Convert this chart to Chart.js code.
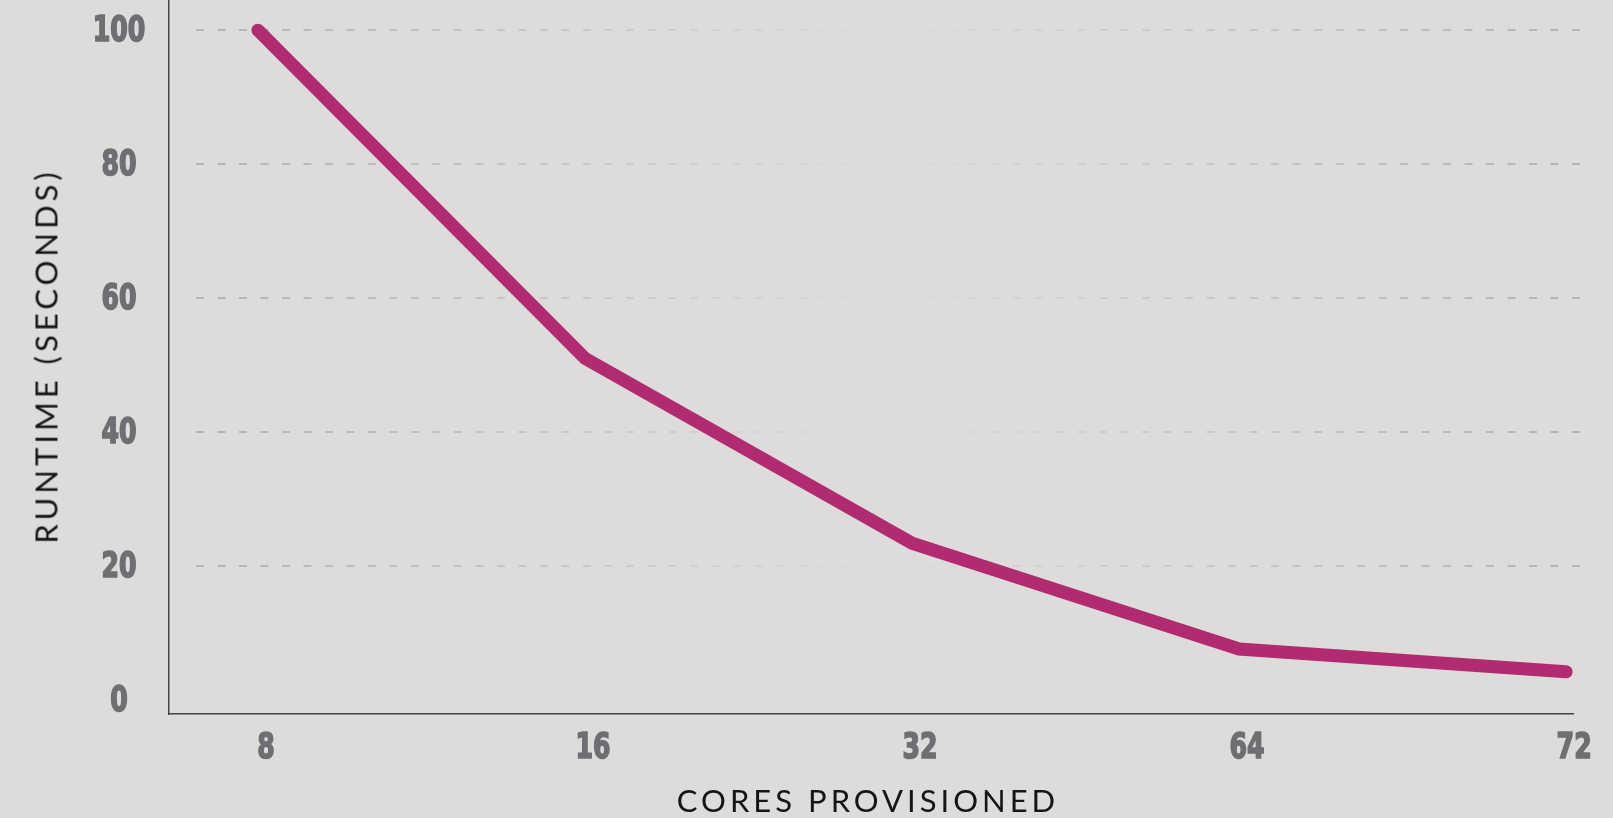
<!DOCTYPE html>
<html>
<head>
<meta charset="utf-8">
<script src="https://cdn.jsdelivr.net/npm/chart.js@4/dist/chart.umd.min.js"></script>
<style>
  html, body { margin: 0; padding: 0; background: #dddcdb; }
  #wrap { position: relative; width: 1613px; height: 818px; }
  canvas { display: block; }
  .axis-title {
    position: absolute;
    font-family: Lato, "Open Sans", sans-serif;
    font-weight: 400;
    font-size: 31px;
    letter-spacing: 4px;
    color: #151515;
    white-space: nowrap;
    line-height: 1;
  }
  #xTitle { left: 868px; top: 800px; transform: translate(-50%, -50%); }
  #yTitle { left: 46px; top: 356px; transform: translate(-50%, -50%) rotate(-90deg); }
</style>
</head>
<body>
<div id="wrap">
  <canvas id="chart" width="1613" height="818"></canvas>
  <div id="xTitle" class="axis-title">CORES PROVISIONED</div>
  <div id="yTitle" class="axis-title">RUNTIME (SECONDS)</div>
</div>
<script>
// 数据
const cores = ['8', '16', '32', '64', '72'];
const runtime = [100, 51, 23.4, 7.6, 4.2];
const yTicks = [0, 20, 40, 60, 80, 100];

const tickFont = 'bold 35px "DejaVu Sans Condensed", "DejaVu Sans", sans-serif';
const tickColor = '#6e6f73';

// 虚线网格（两端深，中间渐淡）
const dashedGrid = {
  id: 'dashedGrid',
  beforeDatasetsDraw(chart) {
    const ctx = chart.ctx;
    const y = chart.scales.y;
    const x0 = 196, x1 = 1580;
    const grad = ctx.createLinearGradient(x0, 0, x1, 0);
    grad.addColorStop(0, '#b4b4b4');
    grad.addColorStop(0.5, '#dbdad9');
    grad.addColorStop(1, '#b4b4b4');
    ctx.save();
    ctx.strokeStyle = grad;
    ctx.lineWidth = 2;
    ctx.setLineDash([8, 13.5]);
    yTicks.filter(v => v > 0).forEach(v => {
      const py = Math.round(y.getPixelForValue(v));
      ctx.beginPath();
      ctx.moveTo(x0, py);
      ctx.lineTo(x1, py);
      ctx.stroke();
    });
    ctx.restore();
  }
};

// 窄体加粗刻度标签
function drawNarrow(ctx, text, x, y) {
  ctx.save();
  ctx.translate(x, y);
  ctx.scale(0.8, 1);
  ctx.textAlign = 'center';
  ctx.fillText(text, 0, 0);
  ctx.strokeText(text, 0, 0);
  ctx.restore();
}

const tickLabels = {
  id: 'tickLabels',
  afterDraw(chart) {
    const ctx = chart.ctx;
    const xs = chart.scales.x, ys = chart.scales.y;
    ctx.save();
    ctx.font = tickFont;
    ctx.fillStyle = tickColor;
    ctx.strokeStyle = tickColor;
    ctx.lineWidth = 1.6;
    ctx.textBaseline = 'middle';
    yTicks.forEach(v => drawNarrow(ctx, String(v), 119, ys.getPixelForValue(v) + 2));
    cores.forEach((c, i) => drawNarrow(ctx, c, xs.getPixelForValue(i) + 8, 749));
    ctx.restore();
  }
};

new Chart(document.getElementById('chart').getContext('2d'), {
  type: 'line',
  data: {
    datasets: [{
      data: runtime.map((v, i) => ({ x: i, y: v })),
      borderColor: '#b12b71',
      borderWidth: 13,
      borderCapStyle: 'round',
      borderJoinStyle: 'miter',
      pointRadius: 0,
      tension: 0
    }]
  },
  options: {
    responsive: false,
    animation: false,
    layout: { padding: { left: 0, right: 40, top: 0, bottom: 0 } },
    plugins: { legend: { display: false }, tooltip: { enabled: false } },
    scales: {
      x: {
        type: 'linear',
        min: -0.272,
        max: 4.021,
        afterBuildTicks(scale) { scale.ticks = cores.map((c, i) => ({ value: i })); },
        afterFit(scale) { scale.height = 104; scale.paddingLeft = 0; scale.paddingRight = 0; },
        grid: { display: false, drawTicks: false },
        border: { display: true, color: '#444', width: 1.5 },
        ticks: { display: false }
      },
      y: {
        min: -2.1,
        max: 104.5,
        afterBuildTicks(scale) { scale.ticks = yTicks.map(v => ({ value: v })); },
        afterFit(scale) { scale.width = 169; scale.paddingTop = 0; scale.paddingBottom = 0; },
        grid: { display: false, drawTicks: false },
        border: { display: true, color: '#444', width: 1.5 },
        ticks: { display: false }
      }
    }
  },
  plugins: [dashedGrid, tickLabels]
});
</script>
</body>
</html>
